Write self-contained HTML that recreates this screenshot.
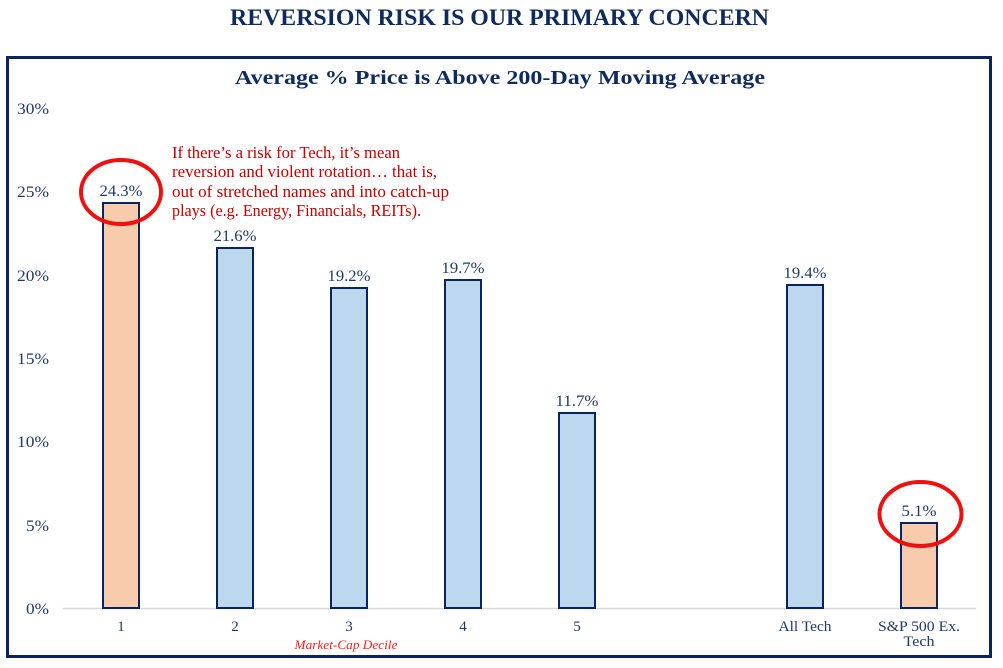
<!DOCTYPE html>
<html><head><meta charset="utf-8"><style>
html,body{margin:0;padding:0;background:#fff;}
svg{display:block;}
text{font-family:"Liberation Serif",serif;}
</style></head><body>
<svg width="1003" height="668" viewBox="0 0 1003 668" xmlns="http://www.w3.org/2000/svg">
<rect x="0" y="0" width="1003" height="668" fill="#fff"/>
<text x="499.5" y="25" text-anchor="middle" font-size="23.5" font-weight="bold" fill="#0f2a5c" textLength="539" lengthAdjust="spacingAndGlyphs">REVERSION RISK IS OUR PRIMARY CONCERN</text>
<rect x="7.5" y="57.5" width="983" height="599" fill="none" stroke="#0a2460" stroke-width="3"/>
<text x="500" y="84" text-anchor="middle" font-size="20" font-weight="bold" fill="#0f2a5c" textLength="530" lengthAdjust="spacingAndGlyphs">Average % Price is Above 200-Day Moving Average</text>
<g font-size="16" fill="#1f3864" text-anchor="end">
<text x="49" y="114" textLength="32" lengthAdjust="spacingAndGlyphs">30%</text>
<text x="49" y="197" textLength="32" lengthAdjust="spacingAndGlyphs">25%</text>
<text x="49" y="281" textLength="32" lengthAdjust="spacingAndGlyphs">20%</text>
<text x="49" y="364" textLength="32" lengthAdjust="spacingAndGlyphs">15%</text>
<text x="49" y="447" textLength="32" lengthAdjust="spacingAndGlyphs">10%</text>
<text x="49" y="531" textLength="23" lengthAdjust="spacingAndGlyphs">5%</text>
<text x="49" y="614" textLength="23" lengthAdjust="spacingAndGlyphs">0%</text>
</g>
<line x1="63" y1="608.5" x2="976" y2="608.5" stroke="#d9d9d9" stroke-width="1.5"/>
<g stroke="#0a2460" stroke-width="2">
<rect x="103" y="203" width="36" height="405" fill="#f8cbad"/>
<rect x="217" y="248" width="36" height="360" fill="#bdd7ee"/>
<rect x="331" y="288" width="36" height="320" fill="#bdd7ee"/>
<rect x="445" y="280" width="36" height="328" fill="#bdd7ee"/>
<rect x="559" y="413" width="36" height="195" fill="#bdd7ee"/>
<rect x="787" y="285" width="36" height="323" fill="#bdd7ee"/>
<rect x="901" y="523" width="36" height="85" fill="#f8cbad"/>
</g>
<g font-size="15.5" fill="#1f3864" text-anchor="middle">
<text x="121" y="196" textLength="43" lengthAdjust="spacingAndGlyphs">24.3%</text>
<text x="235" y="241" textLength="43" lengthAdjust="spacingAndGlyphs">21.6%</text>
<text x="349" y="281" textLength="43" lengthAdjust="spacingAndGlyphs">19.2%</text>
<text x="463" y="273" textLength="43" lengthAdjust="spacingAndGlyphs">19.7%</text>
<text x="577" y="406" textLength="43" lengthAdjust="spacingAndGlyphs">11.7%</text>
<text x="805" y="278" textLength="43" lengthAdjust="spacingAndGlyphs">19.4%</text>
<text x="919" y="516" textLength="35" lengthAdjust="spacingAndGlyphs">5.1%</text>
</g>
<g font-size="15" fill="#1f3864" text-anchor="middle">
<text x="121" y="631">1</text>
<text x="235" y="631">2</text>
<text x="349" y="631">3</text>
<text x="463" y="631">4</text>
<text x="577" y="631">5</text>
<text x="805" y="631" textLength="53" lengthAdjust="spacingAndGlyphs">All Tech</text>
<text x="919" y="631" textLength="82" lengthAdjust="spacingAndGlyphs">S&amp;P 500 Ex.</text>
<text x="919" y="646" textLength="31" lengthAdjust="spacingAndGlyphs">Tech</text>
</g>
<text x="346" y="649" text-anchor="middle" font-size="13" font-style="italic" fill="#ff1a1a" textLength="103" lengthAdjust="spacingAndGlyphs">Market-Cap Decile</text>
<g font-size="16.5" fill="#c00000">
<text x="172" y="158" textLength="228" lengthAdjust="spacingAndGlyphs">If there’s a risk for Tech, it’s mean</text>
<text x="172" y="177" textLength="265" lengthAdjust="spacingAndGlyphs">reversion and violent rotation… that is,</text>
<text x="172" y="197" textLength="277" lengthAdjust="spacingAndGlyphs">out of stretched names and into catch-up</text>
<text x="172" y="216" textLength="249" lengthAdjust="spacingAndGlyphs">plays (e.g. Energy, Financials, REITs).</text>
</g>
<ellipse cx="121" cy="192" rx="40" ry="32" fill="none" stroke="#ee1111" stroke-width="4"/>
<ellipse cx="920.5" cy="514" rx="41" ry="32" fill="none" stroke="#ee1111" stroke-width="4"/>
</svg>
</body></html>
